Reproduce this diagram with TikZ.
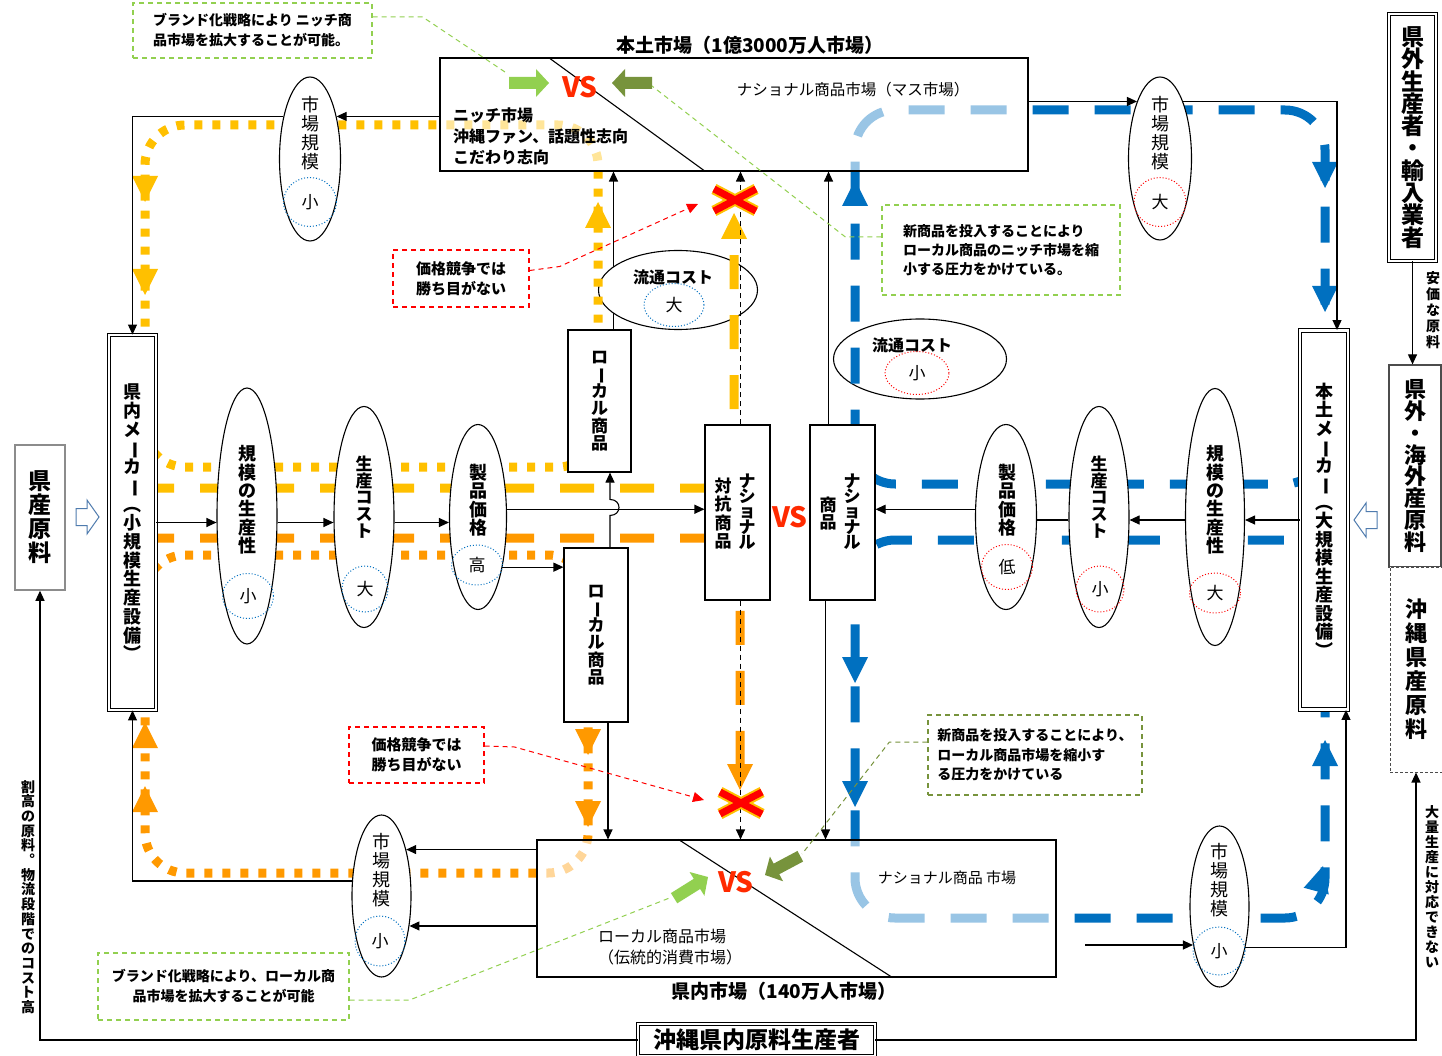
\documentclass[tikz,border=0pt]{standalone}
\usepackage{fontspec}
\usepackage{graphicx}
\setmainfont{Noto Sans CJK JP}
\usetikzlibrary{shapes.geometric,arrows.meta,calc}
\definecolor{cyel}{HTML}{FFC000}
\definecolor{cora}{HTML}{FF9900}
\definecolor{cblu}{HTML}{0070C0}
\definecolor{lgrn}{HTML}{92D050}
\definecolor{dgrn}{HTML}{77933C}
\definecolor{cred}{HTML}{FF0000}
\definecolor{hol}{HTML}{4F7BAE}
\definecolor{gbox}{HTML}{8C8C8C}
\definecolor{vsred}{HTML}{FF2A00}
\newcommand\rt[1]{\rotatebox[origin=c]{-90}{#1}}
\newcommand\fs[2]{\fontsize{#1pt}{#2pt}\selectfont\lineskiplimit=-50pt\lineskip=0pt\relax}
\begin{document}
\begin{tikzpicture}[x=1pt,y=-1pt,
  conn/.style={draw=black,line width=1.1pt},
  arr/.style={conn,-{Triangle[length=10pt,width=9pt]}},
  dasharr/.style={arr,dash pattern=on 5pt off 4pt},
  box/.style={draw=black,line width=1.1pt,fill=white,inner sep=0pt,align=center},
  dbox/.style={box,double,double distance=2.4pt,line width=0.9pt},
  ell/.style={ellipse,draw=black,line width=1.1pt,fill=white,inner sep=0pt},
  cirb/.style={ellipse,draw=cblu,dotted,line width=1pt,inner sep=0pt,font=\fs{17}{17}},
  cirr/.style={ellipse,draw=cred,dotted,line width=1pt,inner sep=0pt,font=\fs{17}{17}},
  vt/.style={align=center,inner sep=0pt},
  loopl/.style={line width=9pt,rounded corners=40pt},
  dotl/.style={loopl,dash pattern=on 8pt off 10pt},
  dashl/.style={line width=9pt,dash pattern=on 34pt off 26pt},
  bdash/.style={loopl,draw=cblu,dash pattern=on 36pt off 26pt},
  tri/.pic={\fill (0,0) -- (-26,13) -- (-26,-13) -- cycle;},
  barrow/.pic={\fill (0,0) -- (-13,14) -- (-13,6) -- (-40,6) -- (-40,-6) -- (-13,-6) -- (-13,-14) -- cycle;},
  harrow/.pic={\draw[hol,line width=1pt,fill=white] (0,0) -- (-12,17) -- (-12,8.5) -- (-23,8.5) -- (-23,-8.5) -- (-12,-8.5) -- (-12,-17) -- cycle;},
  gnote/.style={draw=lgrn,dash pattern=on 5pt off 4pt,line width=1.2pt,fill=white,inner sep=0pt,align=left},
  rnote/.style={gnote,draw=cred},
  onote/.style={gnote,draw=dgrn},
  gline/.style={draw=lgrn,dash pattern=on 5pt off 4pt,line width=1pt},
  oline/.style={draw=dgrn,dash pattern=on 5pt off 4pt,line width=1pt},
  rline/.style={draw=cred,dash pattern=on 5pt off 4pt,line width=1pt,-{Triangle[length=11pt,width=10pt]}},
  vs/.style={text=vsred,font=\fs{28}{28}\bfseries,inner sep=0pt},
  xm/.style={line width=7pt,draw=cred},
  xmo/.style={line width=11pt,draw=cyel},
]
\useasboundingbox (0,0) rectangle (1442,1056);
\fill[white] (0,0) rectangle (1442,1056);

% boxes needed early for the hidden connector
\node[box,minimum width=588pt,minimum height=113pt,draw=none,fill=none] (top) at (734,114.5) {};
\node[box,minimum width=63pt,minimum height=142pt,draw=none,fill=none] (lloc1) at (599.5,401) {};
\draw[arr] ([xshift=14pt]lloc1.north) -- ([xshift=14pt]lloc1.north |- top.south);

% distribution cost ellipses (under the flows)
\node[ell,minimum width=159pt,minimum height=79pt] (ryu1) at (678,290) {};
\node[ell,minimum width=173pt,minimum height=80pt] (ryu2) at (920,359) {};

% flow loops
\draw[dotl,cyel] (145,400) -- (145,467) -- (598,467) -- (598,125) -- (145,125) -- (145,420);
\draw[dotl,cora] (145,640) -- (145,555) -- (588,555) -- (588,873) -- (145,873) -- (145,620);
\draw[dashl,cyel,rounded corners=30pt] (140,488) -- (734,488) -- (734,232);
\draw[dashl,cora,rounded corners=30pt] (140,538) -- (740,538) -- (740,772);
\draw[bdash] (1325,400) -- (1325,484) -- (855,484) -- (855,110) -- (1325,110) -- (1325,420);
\draw[bdash] (1325,640) -- (1325,540) -- (855,540) -- (855,918) -- (1325,918) -- (1325,620);

% flow arrowheads
\pic[fill=cyel,rotate=90] at (598,202) {tri};
\pic[fill=cyel,rotate=-90] at (145,202) {tri};
\pic[fill=cyel,rotate=-90] at (145,295) {tri};
\pic[fill=cyel,rotate=90] at (734,213) {tri};
\pic[fill=cora,rotate=-90] at (588,755) {tri};
\pic[fill=cora,rotate=-90] at (588,827) {tri};
\pic[fill=cora,rotate=90] at (145,722) {tri};
\pic[fill=cora,rotate=90] at (145,786) {tri};
\pic[fill=cora,rotate=-90] at (740,790) {tri};
\pic[fill=cblu,rotate=90] at (855,180) {tri};
\pic[fill=cblu,rotate=-90] at (1325,188) {tri};
\pic[fill=cblu,rotate=-90] at (1325,312) {tri};
\pic[fill=cblu,rotate=-90] at (855,683) {tri};
\pic[fill=cblu,rotate=-90] at (855,807) {tri};
\pic[fill=cblu,rotate=90] at (1325,740) {tri};
\pic[fill=cblu,rotate=75] at (1323,866) {tri};

% market boxes (semi transparent)
\node[box,minimum width=588pt,minimum height=113pt,fill opacity=0.6] (topb) at (734,114.5) {};
\node[box,minimum width=519pt,minimum height=137pt,fill opacity=0.6] (bot) at (796.5,908.5) {};
\draw[conn] ($(top.north west)+(109,0)$) -- ($(top.south west)+(266,0)$);
\draw[conn] ($(bot.north west)+(142,0)$) -- ($(bot.south west)+(356,0)$);

% makers and source boxes
\node[dbox,minimum width=47pt,minimum height=375pt,font=\fs{18}{18.7}\bfseries] (mkL) at (132.5,522.5)
  {県\\内\\メ\\\rt{ー}\\カ\\\rt{ー}\\︵\\小\\規\\模\\生\\産\\設\\備\\︶};
\node[dbox,minimum width=48pt,minimum height=379pt,font=\fs{18}{18.5}\bfseries] (mkR) at (1324,520)
  {本\\土\\メ\\\rt{ー}\\カ\\\rt{ー}\\︵\\大\\規\\模\\生\\産\\設\\備\\︶};
\node[dbox,minimum width=47pt,minimum height=247pt,font=\fs{23}{22.3}\bfseries] (kg) at (1412.5,137.5)
  {県\\外\\生\\産\\者\\・\\輸\\入\\業\\者};
\node[box,draw=black!70,line width=1.2pt,minimum width=52pt,minimum height=202pt,font=\fs{22}{21.8}\bfseries] (kk) at (1415,466)
  {県\\外\\・\\海\\外\\産\\原\\料};
\node[box,draw=black!70,line width=1pt,dash pattern=on 3pt off 2pt,minimum width=52pt,minimum height=205pt,font=\fs{22}{24}\bfseries] (okr) at (1416,669.5)
  {沖\\縄\\県\\産\\原\\料};
\node[box,draw=gbox,line width=1.5pt,minimum width=50pt,minimum height=145pt,font=\fs{23}{24}\bfseries] (kenL) at (40,517.5)
  {県\\産\\原\\料};
\node[dbox,minimum width=237pt,minimum height=32pt,font=\fs{23}{23}\bfseries] (okp) at (756.5,1040) {沖縄県内原料生産者};

% goods boxes
\node[box,minimum width=63pt,minimum height=142pt,font=\fs{17}{17.3}\bfseries] (lloc1b) at (599.5,401) {ロ\\\rt{ー}\\カ\\ル\\商\\品};
\node[box,minimum width=64pt,minimum height=174pt,font=\fs{17}{17.3}\bfseries] (lloc2) at (596,635) {ロ\\\rt{ー}\\カ\\ル\\商\\品};
\node[box,minimum width=65pt,minimum height=175pt] (natL) at (737.5,512.5) {};
\node[box,minimum width=65pt,minimum height=175pt] (natR) at (842.5,512.5) {};
\node[vt,font=\fs{17}{15.4}\bfseries] (natLa) at (747,511.5) {ナ\\シ\\ョ\\ナ\\ル};
\node[vt,font=\fs{17}{18.3}\bfseries] (natLb) at (723,513.5) {対\\抗\\商\\品};
\node[vt,font=\fs{17}{15.4}\bfseries] (natRa) at (852,511.5) {ナ\\シ\\ョ\\ナ\\ル};
\node[vt,font=\fs{17}{17}\bfseries] (natRb) at (828,513.5) {商\\品};

% ellipses
\node[ell,minimum width=61pt,minimum height=164pt] (ellTL) at (310,159) {};
\node[ell,minimum width=63pt,minimum height=163pt] (ellTR) at (1160,158.5) {};
\node[ell,minimum width=59pt,minimum height=162pt] (ellBL) at (381.5,896) {};
\node[ell,minimum width=59pt,minimum height=161pt] (ellBR) at (1219.5,906.5) {};
\node[ell,minimum width=60pt,minimum height=256pt] (ell1) at (247,516) {};
\node[ell,minimum width=60pt,minimum height=221pt] (ell2) at (364,517) {};
\node[ell,minimum width=57pt,minimum height=185pt] (ell3) at (478,517) {};
\node[ell,minimum width=61pt,minimum height=185pt] (ellR1) at (1006,517) {};
\node[ell,minimum width=60pt,minimum height=221pt] (ellR2) at (1099,517) {};
\node[ell,minimum width=59pt,minimum height=257pt] (ellR3) at (1215,517) {};

% ellipse texts
\node[vt,font=\fs{18}{18.8}] (tTL) at (310,133) {市\\場\\規\\模};
\node[vt,font=\fs{18}{18.8}] (tTR) at (1160,133) {市\\場\\規\\模};
\node[vt,font=\fs{18}{18.8}] (tBL) at (381,870) {市\\場\\規\\模};
\node[vt,font=\fs{18}{18.8}] (tBR) at (1219,880) {市\\場\\規\\模};
\node[vt,font=\fs{18}{18.4}\bfseries] (t1) at (247,500) {規\\模\\の\\生\\産\\性};
\node[vt,font=\fs{17}{16.8}\bfseries] (t2) at (364,497) {生\\産\\コ\\ス\\ト};
\node[vt,font=\fs{18}{18.5}\bfseries] (t3) at (478,500) {製\\品\\価\\格};
\node[vt,font=\fs{18}{18.5}\bfseries] (tR1) at (1007,500) {製\\品\\価\\格};
\node[vt,font=\fs{17}{16.8}\bfseries] (tR2) at (1099,497) {生\\産\\コ\\ス\\ト};
\node[vt,font=\fs{18}{18.4}\bfseries] (tR3) at (1215,500) {規\\模\\の\\生\\産\\性};
\node[font=\fs{16}{16}\bfseries,inner sep=0pt] (tryu1) at (673,277) {流通コスト};
\node[font=\fs{16}{16}\bfseries,inner sep=0pt] (tryu2) at (912,345) {流通コスト};

% small dotted circles
\node[cirb,minimum width=53pt,minimum height=49pt] (cTL) at (310,202) {小};
\node[cirr,minimum width=52pt,minimum height=49pt] (cTR) at (1160,202) {大};
\node[cirb,minimum width=50pt,minimum height=50pt] (cBL) at (380,941) {小};
\node[cirb,minimum width=52pt,minimum height=48pt] (cBR) at (1219,951) {小};
\node[cirb,minimum width=51pt,minimum height=45pt] (c1) at (248,596) {小};
\node[cirb,minimum width=46pt,minimum height=46pt] (c2) at (365,589) {大};
\node[cirb,minimum width=51pt,minimum height=40pt] (c3) at (477,565) {高};
\node[cirr,minimum width=51pt,minimum height=45pt] (cR1) at (1007,567) {低};
\node[cirr,minimum width=48pt,minimum height=46pt] (cR2) at (1100,589) {小};
\node[cirr,minimum width=51pt,minimum height=40pt] (cR3) at (1215,593) {大};
\node[cirb,minimum width=60pt,minimum height=43pt] (cryu1) at (674,305) {大};
\node[cirr,minimum width=64pt,minimum height=43pt] (cryu2) at (917,373) {小};

% black connectors
\draw[arr] (top.west |- ellTL.58) -- (ellTL.58);
\draw[arr] (ellTL.122) -| (mkL.north);
\draw[arr] (ellBL.153) -| (mkL.south);
\draw[arr] (bot.west |- ellBL.62) -- (ellBL.62);
\draw[arr] (bot.west |- ellBL.-47) -- (ellBL.-47);
\draw[arr] (top.east |- ellTR.112) -- (ellTR.112);
\draw[arr] (ellTR.68) -| ([xshift=13pt]mkR.north);
\draw[arr] (ellBR.-58) -| ([xshift=22pt]mkR.south);
\coordinate (fstart) at (1085,945);
\draw[arr] (fstart) -- (fstart -| ellBR.235);
\draw[arr] (mkL.east) -- (ell1.west |- mkL.east);
\draw[arr] (ell1.east |- mkL.east) -- (ell2.west |- mkL.east);
\draw[arr] (ell2.east |- mkL.east) -- (ell3.west |- mkL.east);
\draw[arr] (ell3.15) -- (ell3.15 -| natL.west);
\draw[arr] (ell3.-64) -- (ell3.-64 -| lloc2.west);
\draw[arr] ([xshift=14pt]lloc2.north) -- ++(0,-32) .. controls +(12,0) and +(12,0) .. ++(0,-16) -- ([xshift=14pt]lloc2.north |- lloc1.south);
\draw[arr] ([xshift=12pt]lloc2.south) -- ([xshift=12pt]lloc2.south |- bot.north);
\draw[dasharr] ([xshift=3pt]natL.north) -- ([xshift=3pt]natL.north |- top.south);
\draw[dasharr] ([xshift=3pt]natL.south) -- ([xshift=3pt]natL.south |- bot.north);
\draw[arr] ([xshift=-14pt]natR.north) -- ([xshift=-14pt]natR.north |- top.south);
\draw[arr] ([xshift=-17pt]natR.south) -- ([xshift=-17pt]natR.south |- bot.north);
\draw[arr] (mkR.west) -- (ellR3.east |- mkR.west);
\draw[arr] (ellR3.west |- mkR.west) -- (ellR2.east |- mkR.west);
\draw[conn] (ellR2.west |- mkR.west) -- (ellR1.east |- mkR.west);
\draw[arr] (ellR1.166) -- (ellR1.166 -| natR.east);
\draw[arr] (kg.south) -- (kg.south |- kk.north);
\draw[arr] (okp.west) -| (kenL.south);
\draw[arr] (okp.east) -| (okr.south);

% hollow arrows
\pic at (99,517) {harrow};
\pic[rotate=180] at (1354,520) {harrow};

% market texts
\node[font=\fs{19}{19}\bfseries] (ttl) at (750,45) {本土市場（1億3000万人市場）};
\node[font=\fs{15.5}{16}] (tnat) at (853,90) {ナショナル商品市場（マス市場）};
\node[font=\fs{16}{21}\bfseries,align=left,anchor=west,inner sep=0pt] (tniche) at (453,136) {ニッチ市場\\沖縄ファン、話題性志向\\こだわり志向};
\node[font=\fs{15}{16}] (bnat) at (947,878) {ナショナル商品 市場};
\node[font=\fs{16}{21},align=left,anchor=west,inner sep=0pt] (bloc) at (598,947) {ローカル商品市場\\（伝統的消費市場）};
\node[font=\fs{19}{19}\bfseries] (btl) at (784,991) {県内市場（140万人市場）};

% VS marks
\node[vs] (vst) at (580,87) {VS};
\node[vs] (vsm) at (790,517) {VS};
\node[vs] (vsb) at (736,882) {VS};

% competition block arrows
\pic[fill=lgrn] at (549,83) {barrow};
\pic[fill=dgrn,rotate=180] at (612,83) {barrow};
\pic[fill=lgrn,rotate=32] at (708,877) {barrow};
\pic[fill=dgrn,rotate=208] at (765,875) {barrow};

% X marks
\draw[xmo] (714,189) -- (756,211) (714,211) -- (756,189);
\draw[xm] (714,189) -- (756,211) (714,211) -- (756,189);
\draw[xmo] (720,792) -- (762,814) (720,814) -- (762,792);
\draw[xm] (720,792) -- (762,814) (720,814) -- (762,792);

% side labels
\node[vt,font=\fs{14}{16}\bfseries] (lab1) at (1433,310) {安\\価\\な\\原\\料};
\node[vt,font=\fs{14}{14.7}\bfseries] (lab2) at (28,897) {割\\高\\の\\原\\料\\︒\\物\\流\\段\\階\\で\\の\\コ\\ス\\ト\\高};
\node[vt,font=\fs{14}{15}\bfseries] (lab3) at (1432,887) {大\\量\\生\\産\\に\\対\\応\\で\\き\\な\\い};

% notes
\node[gnote,minimum width=239pt,minimum height=55pt,font=\fs{14}{20}\bfseries] (gn1) at (252.5,30.5) {ブランド化戦略により ニッチ商\\品市場を拡大することが可能。};
\node[gnote,minimum width=238pt,minimum height=90pt,font=\fs{14}{19}\bfseries] (gn2) at (1001,250) {新商品を投入することにより\\ローカル商品のニッチ市場を縮\\小する圧力をかけている。};
\node[rnote,minimum width=136pt,minimum height=57pt,font=\fs{15}{20}\bfseries] (rn1) at (461,278.5) {価格競争では\\勝ち目がない};
\node[rnote,minimum width=135pt,minimum height=56pt,font=\fs{15}{20}\bfseries] (rn2) at (416.5,755) {価格競争では\\勝ち目がない};
\node[gnote,align=center,minimum width=251pt,minimum height=67pt,font=\fs{14}{20}\bfseries] (gn3) at (223.5,986.5) {ブランド化戦略により、ローカル商\\品市場を拡大することが可能};
\node[onote,minimum width=214pt,minimum height=80pt,font=\fs{14}{19.5}\bfseries] (on4) at (1035,755) {新商品を投入することにより、\\ローカル商品市場を縮小す\\る圧力をかけている};

% note connectors
\coordinate (ga1) at (508,74);
\coordinate (ga2) at (652,86);
\coordinate (ga3) at (672,897);
\coordinate (ga4) at (802,854);
\coordinate (rt1) at (698,204);
\coordinate (rt2) at (704,800);
\draw[gline] ([yshift=13.5pt]gn1.east) -- ++(50,0) -- (ga1);
\draw[gline] ([yshift=13pt]gn2.west) -- ++(-36,0) -- (ga2);
\draw[gline] ([yshift=-13.5pt]gn3.east) -- ++(60,0) -- (ga3);
\draw[oline] ([yshift=13pt]on4.west) -- ++(-38,0) -- (ga4);
\draw[rline] ([yshift=8pt]rn1.east) -- ++(30,-4) -- (rt1);
\draw[rline] ([yshift=9pt]rn2.east) -- ++(30,1) -- (rt2);
\end{tikzpicture}
\end{document}
